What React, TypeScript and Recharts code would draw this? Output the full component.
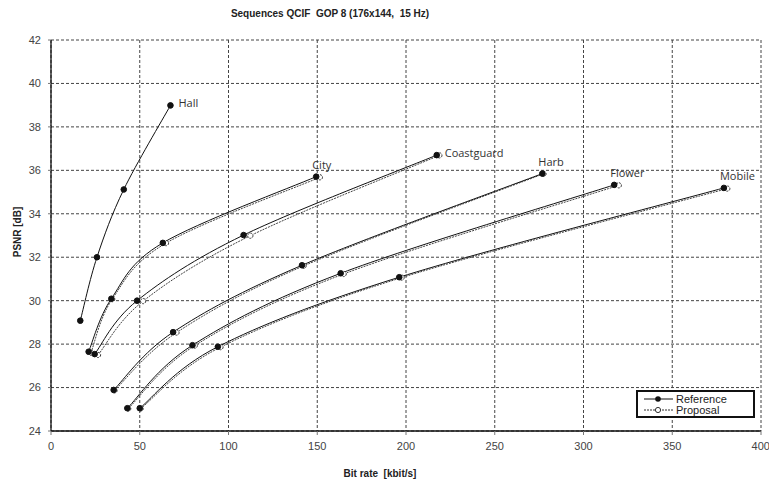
import React from 'react';
import { LineChart, Line, XAxis, YAxis, CartesianGrid, LabelList } from 'recharts';

// bit rate [kbit/s] and PSNR [dB]
const hallRate = [16.5, 25.9, 41, 67.3];
const hallPsnr = [29.08, 32.0, 35.12, 38.99];

const cityRate = [21.2, 34, 63, 149.4];
const cityPsnr = [27.65, 30.09, 32.66, 35.71];
const cityPropRate = [22.5, 34.5, 64.8, 151.5];
const cityPropPsnr = [27.6, 30.07, 32.65, 35.68];

const coastRate = [24.6, 48.5, 108.5, 217.3];
const coastPsnr = [27.54, 30.0, 33.02, 36.7];
const coastPropRate = [26.5, 51.9, 112.3, 218.8];
const coastPropPsnr = [27.5, 29.98, 32.99, 36.69];

const harbRate = [35.3, 68.8, 141.4, 276.8];
const harbPsnr = [25.89, 28.55, 31.63, 35.85];
const harbPropRate = [35.8, 70.7, 142.3, 277.5];
const harbPropPsnr = [25.87, 28.53, 31.6, 35.84];

const flowerRate = [43, 79.7, 163.2, 317.3];
const flowerPsnr = [25.05, 27.95, 31.26, 35.33];
const flowerPropRate = [43.5, 81, 164.9, 319.9];
const flowerPropPsnr = [25.03, 27.93, 31.23, 35.31];

const mobileRate = [50, 94, 196.2, 379.1];
const mobilePsnr = [25.05, 27.88, 31.08, 35.19];
const mobilePropRate = [50.5, 95.5, 197.5, 381];
const mobilePropPsnr = [25.03, 27.86, 31.06, 35.16];

const xTicks = [0, 50, 100, 150, 200, 250, 300, 350, 400];
const yTicks = [24, 26, 28, 30, 32, 34, 36, 38, 40, 42];

const pts = (rate: number[], psnr: number[]) => rate.map((r, i) => ({ rate: r, psnr: psnr[i] }));

const FONT = "'Liberation Sans', Arial, sans-serif";
const LABEL_FONT = "'Open Sans', 'Noto Sans', sans-serif";

// spreadsheet-style smoothing: cubic bezier with tangents (P[i+1]-P[i-1])/6, in pixel space
const smoothCurve = (context: any) => {
  let xs: number[] = [];
  let ys: number[] = [];
  return {
    areaStart() {},
    areaEnd() {},
    lineStart() {
      xs = [];
      ys = [];
    },
    point(x: number, y: number) {
      xs.push(+x);
      ys.push(+y);
    },
    lineEnd() {
      const n = xs.length;
      if (!n) return;
      context.moveTo(xs[0], ys[0]);
      for (let i = 0; i < n - 1; i++) {
        const a = Math.max(i - 1, 0);
        const d = Math.min(i + 2, n - 1);
        const c1x = xs[i] + (xs[i + 1] - xs[a]) / 6;
        const c1y = ys[i] + (ys[i + 1] - ys[a]) / 6;
        const c2x = xs[i + 1] - (xs[d] - xs[i]) / 6;
        const c2y = ys[i + 1] - (ys[d] - ys[i]) / 6;
        context.bezierCurveTo(c1x, c1y, c2x, c2y, xs[i + 1], ys[i + 1]);
      }
    },
  };
};

// name label next to the last point of a curve
const endLabel = (name: string, side: 'right' | 'above', last: number) => (props: any) => {
  const { x, y, index } = props;
  if (index !== last) return null;
  if (side === 'right') {
    return (
      <text x={x + 8} y={y - 1} fontSize={11} fill="#333" fontFamily={LABEL_FONT} dominantBaseline="middle">
        {name}
      </text>
    );
  }
  return (
    <text x={x - 4} y={y - 8} fontSize={11} fill="#333" fontFamily={LABEL_FONT}>
      {name}
    </text>
  );
};

const refDot = { r: 2.8, fill: '#111', stroke: '#111', strokeWidth: 1 };
const propDot = { r: 2.6, fill: '#fff', stroke: '#333', strokeWidth: 1 };

const LegendBox = () => (
  <div
    style={{
      position: 'absolute',
      left: 636,
      top: 390,
      width: 115,
      height: 22,
      border: '2.5px solid #111',
      background: '#fff',
      fontFamily: FONT,
      fontSize: 11,
      color: '#222',
      lineHeight: '12px',
      padding: '1px 0',
    }}
  >
    <div style={{ display: 'flex', alignItems: 'center', height: 11 }}>
      <svg width={38} height={10}>
        <line x1={6} y1={5} x2={35} y2={5} stroke="#111" strokeWidth={1} />
        <circle cx={20} cy={5} r={2.8} fill="#111" />
      </svg>
      <span>Reference</span>
    </div>
    <div style={{ display: 'flex', alignItems: 'center', height: 11 }}>
      <svg width={38} height={10}>
        <line x1={6} y1={5} x2={35} y2={5} stroke="#333" strokeWidth={1} strokeDasharray="2 1" />
        <circle cx={20} cy={5} r={2.6} fill="#fff" stroke="#333" />
      </svg>
      <span>Proposal</span>
    </div>
  </div>
);

const series = [
  { name: 'City', side: 'above' as const, ref: pts(cityRate, cityPsnr), prop: pts(cityPropRate, cityPropPsnr) },
  { name: 'Coastguard', side: 'right' as const, ref: pts(coastRate, coastPsnr), prop: pts(coastPropRate, coastPropPsnr) },
  { name: 'Harb', side: 'above' as const, ref: pts(harbRate, harbPsnr), prop: pts(harbPropRate, harbPropPsnr) },
  { name: 'Flower', side: 'above' as const, ref: pts(flowerRate, flowerPsnr), prop: pts(flowerPropRate, flowerPropPsnr) },
  { name: 'Mobile', side: 'above' as const, ref: pts(mobileRate, mobilePsnr), prop: pts(mobilePropRate, mobilePropPsnr) },
];

export default function App() {
  return (
    <div style={{ position: 'absolute', left: 0, top: 0, width: 769, height: 487, background: '#fff' }}>
      <div
        style={{
          position: 'absolute',
          top: 8,
          left: 230,
          width: 200,
          textAlign: 'center',
          fontFamily: FONT,
          fontWeight: 'bold',
          fontSize: 10,
          whiteSpace: 'pre',
          color: '#222',
        }}
      >
        {'Sequences QCIF  GOP 8 (176x144,  15 Hz)'}
      </div>
      <div
        style={{
          position: 'absolute',
          left: 17,
          top: 232,
          transform: 'translate(-50%, -50%) rotate(-90deg)',
          fontFamily: FONT,
          fontWeight: 'bold',
          fontSize: 10,
          whiteSpace: 'pre',
          color: '#222',
        }}
      >
        PSNR [dB]
      </div>
      <div
        style={{
          position: 'absolute',
          left: 380,
          top: 473,
          transform: 'translate(-50%, -50%)',
          fontFamily: FONT,
          fontWeight: 'bold',
          fontSize: 10,
          whiteSpace: 'pre',
          color: '#222',
        }}
      >
        {'Bit rate  [kbit/s]'}
      </div>
      <LineChart width={769} height={487} margin={{ top: 40, right: 8, bottom: 26, left: 0 }}>
        <CartesianGrid strokeDasharray="3 2" stroke="#444" strokeWidth={1} />
        <XAxis
          dataKey="rate"
          type="number"
          domain={[0, 400]}
          ticks={xTicks}
          height={30}
          allowDuplicatedCategory={false}
          axisLine={{ stroke: '#111', strokeWidth: 1.5 }}
          tickLine={{ stroke: '#777' }}
          tickSize={4}
          tickMargin={7}
          tick={{ fill: '#444', fontSize: 11, fontFamily: FONT }}
        />
        <YAxis
          dataKey="psnr"
          type="number"
          domain={[24, 42]}
          ticks={yTicks}
          width={51}
          axisLine={{ stroke: '#111', strokeWidth: 1.3 }}
          tickLine={{ stroke: '#777' }}
          tickSize={3}
          tickMargin={7}
          tick={{ fill: '#444', fontSize: 11, fontFamily: FONT }}
        />
        {series.map((s) => (
          <Line
            key={s.name + '-prop'}
            data={s.prop}
            dataKey="psnr"
            name={s.name + ' proposal'}
            type={smoothCurve as any}
            stroke="#444"
            strokeWidth={1}
            strokeDasharray="2 1"
            dot={propDot}
            activeDot={false}
            isAnimationActive={false}
          />
        ))}
        <Line
          data={pts(hallRate, hallPsnr)}
          dataKey="psnr"
          name="Hall"
          type={smoothCurve as any}
          stroke="#111"
          strokeWidth={1}
          dot={refDot}
          activeDot={false}
          isAnimationActive={false}
        >
          <LabelList dataKey="psnr" content={endLabel('Hall', 'right', hallRate.length - 1)} />
        </Line>
        {series.map((s) => (
          <Line
            key={s.name + '-ref'}
            data={s.ref}
            dataKey="psnr"
            name={s.name}
            type={smoothCurve as any}
            stroke="#111"
            strokeWidth={1}
            dot={refDot}
            activeDot={false}
            isAnimationActive={false}
          >
            <LabelList dataKey="psnr" content={endLabel(s.name, s.side, s.ref.length - 1)} />
          </Line>
        ))}
      </LineChart>
      <LegendBox />
    </div>
  );
}
